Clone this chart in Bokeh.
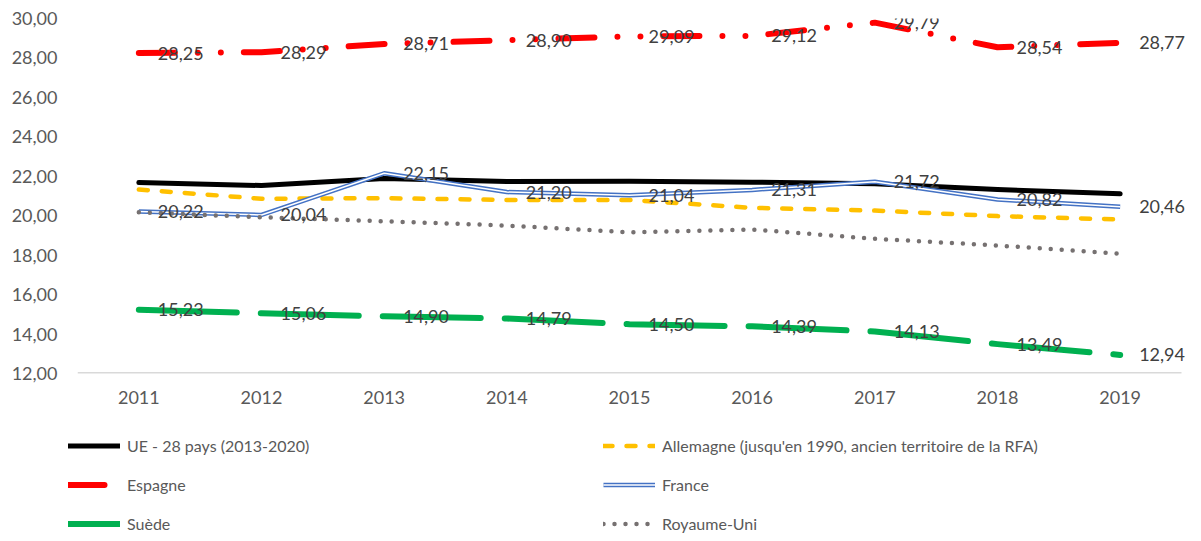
from bokeh.plotting import figure
from bokeh.layouts import column
from bokeh.models import (ColumnDataSource, LabelSet, Legend, LegendItem, FixedTicker,
                          CustomJSTickFormatter, Range1d)
from bokeh.core.properties import value
from bokeh.embed import file_html
from bokeh.resources import INLINE

years = [2011, 2012, 2013, 2014, 2015, 2016, 2017, 2018, 2019]
x_labels = ["2011", "2012", "2013", "2014", "2015", "2016", "2017", "2018", "2019"]
y_ticks = [12, 14, 16, 18, 20, 22, 24, 26, 28, 30]

ue28 = [21.68, 21.53, 21.89, 21.73, 21.75, 21.70, 21.62, 21.33, 21.11]
allemagne = [21.33, 20.86, 20.89, 20.80, 20.80, 20.40, 20.26, 19.98, 19.81]
espagne = [28.25, 28.29, 28.71, 28.90, 29.09, 29.12, 29.79, 28.54, 28.77]
france = [20.22, 20.04, 22.15, 21.20, 21.04, 21.31, 21.72, 20.82, 20.46]
suede = [15.23, 15.06, 14.90, 14.79, 14.50, 14.39, 14.13, 13.49, 12.94]
royaume_uni = [20.18, 19.92, 19.72, 19.50, 19.16, 19.30, 18.83, 18.49, 18.07]

names = ["UE - 28 pays (2013-2020)",
         "Allemagne (jusqu'en 1990, ancien territoire de la RFA)",
         "Espagne", "France", "Suède", "Royaume-Uni"]

FONT = "Lato"
W = 1200
px_per_year = (1181 - 77) / 9.0
frame_w = W - 77
x_start = years[0] - 0.5
x_end = x_start + frame_w / px_per_year

styles = {
    "ue": [dict(line_color="black", line_width=5, line_join="round", line_cap="round")],
    "de": [dict(line_color="#FFC000", line_width=4.5, line_dash="9 14", line_cap="round",
                line_join="round")],
    "es": [dict(line_color="#FF0000", line_width=6, line_dash="36 23 0 23 0 23",
                line_cap="round", line_join="round")],
    "fr": [dict(line_color="#4472C4", line_width=4.5, line_join="round"),
           dict(line_color="white", line_width=1.5, line_join="round")],
    "se": [dict(line_color="#00B050", line_width=6, line_dash="98 24", line_cap="round",
                line_join="round")],
    "uk": [dict(line_color="#767171", line_width=4.5, line_dash="0 11", line_cap="round",
                line_join="round")],
}

p = figure(frame_width=frame_w, frame_height=355, output_backend="svg", toolbar_location=None,
           x_range=Range1d(x_start, x_end), y_range=Range1d(y_ticks[0], y_ticks[-1]),
           min_border_left=77, min_border_right=0, min_border_top=18, min_border_bottom=39)
p.frame_align = False
p.outline_line_color = None
p.xgrid.visible = False
p.ygrid.visible = False

p.yaxis.ticker = FixedTicker(ticks=y_ticks)
p.yaxis.formatter = CustomJSTickFormatter(code="return tick.toFixed(2).replace('.', ',');")
p.xaxis.ticker = FixedTicker(ticks=years)
p.xaxis.major_label_overrides = {y: l for y, l in zip(years, x_labels)}
for ax in (p.xaxis, p.yaxis):
    ax.axis_line_color = None
    ax.major_tick_line_color = None
    ax.minor_tick_line_color = None
    ax.major_tick_out = 0
    ax.major_tick_in = 0
    ax.major_label_text_font = FONT
    ax.major_label_text_font_size = "18px"
    ax.major_label_text_color = "#595959"
p.yaxis.major_label_standoff = 20
p.xaxis.major_label_standoff = 17

p.segment(x0=[years[0] - 0.5], x1=[years[-1] + 0.5], y0=[y_ticks[0]], y1=[y_ticks[0]],
          line_color="#D9D9D9", line_width=3)

src = ColumnDataSource(dict(x=years, ue=ue28, de=allemagne, es=espagne, fr=france,
                            se=suede, uk=royaume_uni,
                            es_l=[f"{v:.2f}".replace(".", ",") for v in espagne],
                            fr_l=[f"{v:.2f}".replace(".", ",") for v in france],
                            se_l=[f"{v:.2f}".replace(".", ",") for v in suede]))

for key in ["ue", "de", "es", "fr", "se", "uk"]:
    for st in styles[key]:
        p.line("x", key, source=src, **st)

for col, lab in (("es", "es_l"), ("fr", "fr_l"), ("se", "se_l")):
    p.add_layout(LabelSet(x="x", y=col, text=lab, source=src, x_offset=19, y_offset=0,
                          text_baseline="middle", text_align="left", text_font=value(FONT),
                          text_font_size="18px", text_color="#404040"))

# legend figure
H2 = 128
p2 = figure(width=W, height=H2, output_backend="svg", toolbar_location=None,
            x_range=Range1d(0, 1), y_range=Range1d(0, 1),
            min_border=0, min_border_left=0, min_border_right=0,
            min_border_top=0, min_border_bottom=0, x_axis_type=None, y_axis_type=None)
p2.frame_align = False
p2.outline_line_color = None
p2.xgrid.visible = False
p2.ygrid.visible = False

nan = float("nan")
dummy = {}
for key in ["ue", "de", "es", "fr", "se", "uk"]:
    dummy[key] = [p2.line(x=[nan], y=[nan], **st) for st in styles[key]]

def make_legend(keys_labels, vx):
    return Legend(items=[LegendItem(label=lbl, renderers=dummy[k]) for k, lbl in keys_labels],
                  location=(vx, 7), orientation="vertical",
                  glyph_width=52, glyph_height=19, label_height=19, label_standoff=7,
                  spacing=20, padding=0, margin=0, border_line_color=None,
                  background_fill_alpha=0, label_text_font=FONT, label_text_font_size="16px",
                  label_text_color="#595959")

p2.add_layout(make_legend([("ue", names[0]), ("es", names[2]), ("se", names[4])], 68), "center")
p2.add_layout(make_legend([("de", names[1]), ("fr", names[3]), ("uk", names[5])], 603), "center")

layout = column(p, p2, spacing=0)
open("out.html", "w").write(file_html(layout, INLINE))
